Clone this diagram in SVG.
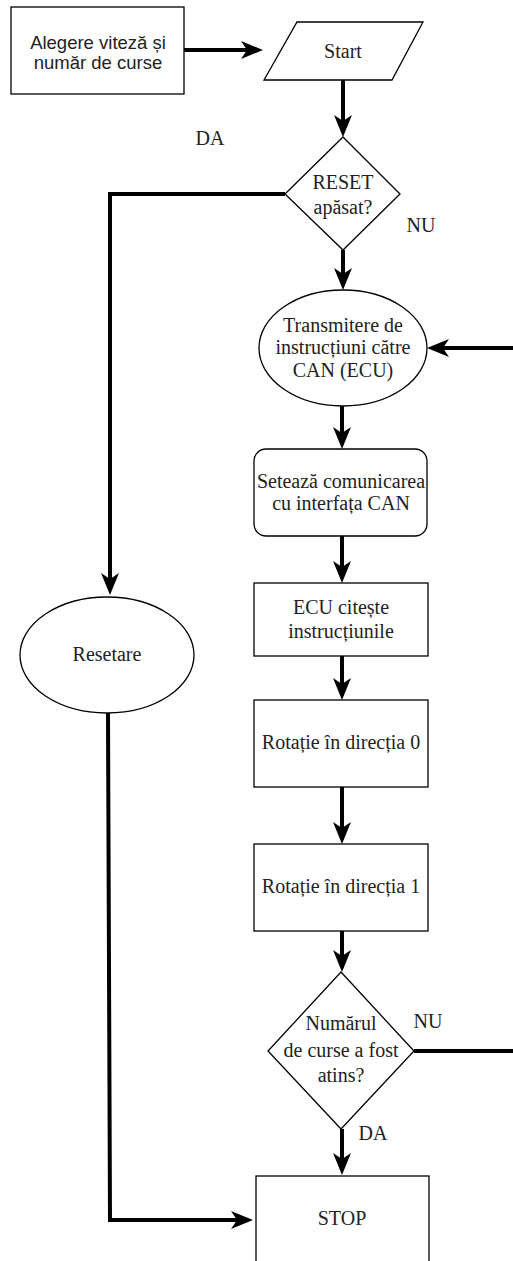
<svg xmlns="http://www.w3.org/2000/svg" width="513" height="1261" viewBox="0 0 513 1261">
<style>
.shape{fill:#fff;stroke:#000;stroke-width:1.3}
.conn{fill:none;stroke:#000;stroke-width:4}
.t{font-family:"Liberation Serif","Times New Roman",serif;font-size:20px;fill:#222;text-anchor:middle;dominant-baseline:central}
.s{font-family:"Liberation Sans",Arial,sans-serif;font-size:18.5px;fill:#222;text-anchor:middle;dominant-baseline:central}
</style>
<defs>
<marker id="arr" markerUnits="userSpaceOnUse" viewBox="0 0 22 18" refX="14" refY="9" markerWidth="22" markerHeight="18" orient="auto">
<path d="M0,0 L22,9 L0,18 L6,9 z" fill="#000"/>
</marker>
</defs>
<g id="connectors">
<line class="conn" x1="184" y1="50" x2="255" y2="50" marker-end="url(#arr)"/>
<line class="conn" x1="343" y1="80" x2="343" y2="129" marker-end="url(#arr)"/>
<polyline class="conn" points="285,194 110,194 110,587" marker-end="url(#arr)"/>
<line class="conn" x1="343" y1="250" x2="343" y2="282" marker-end="url(#arr)"/>
<line class="conn" x1="513" y1="348" x2="435" y2="348" marker-end="url(#arr)"/>
<line class="conn" x1="342" y1="406" x2="342" y2="441" marker-end="url(#arr)"/>
<line class="conn" x1="342" y1="536" x2="342" y2="575" marker-end="url(#arr)"/>
<line class="conn" x1="342" y1="656" x2="342" y2="692" marker-end="url(#arr)"/>
<line class="conn" x1="342" y1="787" x2="342" y2="836" marker-end="url(#arr)"/>
<line class="conn" x1="342" y1="931" x2="342" y2="964" marker-end="url(#arr)"/>
<line class="conn" x1="342" y1="1129" x2="342" y2="1167" marker-end="url(#arr)"/>
<line class="conn" x1="414" y1="1051" x2="513" y2="1051"/>
<polyline class="conn" points="108,713 110,1220 245,1220" marker-end="url(#arr)"/>
</g>
<g id="n-alegere">
<rect class="shape" x="11" y="7" width="173" height="87"/>
<text class="s" x="98" y="42">Alegere viteză și</text>
<text class="s" x="98" y="62">număr de curse</text>
</g>
<g id="n-start">
<polygon class="shape" points="297,22 423,22 392,80 264,80"/>
<text class="t" x="343" y="51">Start</text>
</g>
<g id="n-reset">
<polygon class="shape" points="343,137 400,194 343,250 285,194"/>
<text class="t" x="343" y="182">RESET</text>
<text class="t" x="343" y="207">apăsat?</text>
</g>
<text class="t" x="210" y="138">DA</text>
<text class="t" x="421" y="225">NU</text>
<g id="n-transmitere">
<ellipse class="shape" cx="343" cy="348" rx="84" ry="58"/>
<text class="t" x="343" y="325">Transmitere de</text>
<text class="t" x="343" y="347">instrucțiuni către</text>
<text class="t" x="343" y="370">CAN (ECU)</text>
</g>
<g id="n-seteaza">
<rect class="shape" x="254" y="449" width="173" height="87" rx="12"/>
<text class="t" x="341" y="481">Setează comunicarea</text>
<text class="t" x="341" y="503">cu interfața CAN</text>
</g>
<g id="n-ecu">
<rect class="shape" x="254" y="583" width="174" height="73"/>
<text class="t" x="341" y="607">ECU citește</text>
<text class="t" x="341" y="631">instrucțiunile</text>
</g>
<g id="n-rot0">
<rect class="shape" x="254" y="700" width="174" height="87"/>
<text class="t" x="341" y="742">Rotație în direcția 0</text>
</g>
<g id="n-rot1">
<rect class="shape" x="254" y="844" width="174" height="87"/>
<text class="t" x="341" y="886">Rotație în direcția 1</text>
</g>
<g id="n-numarul">
<polygon class="shape" points="341,972 414,1051 341,1129 268,1051"/>
<text class="t" x="341" y="1023">Numărul</text>
<text class="t" x="341" y="1050">de curse a fost</text>
<text class="t" x="341" y="1075">atins?</text>
</g>
<text class="t" x="428" y="1021">NU</text>
<text class="t" x="373" y="1133">DA</text>
<g id="n-resetare">
<ellipse class="shape" cx="107" cy="655" rx="87" ry="58"/>
<text class="t" x="107" y="654">Resetare</text>
</g>
<g id="n-stop">
<rect class="shape" x="256" y="1176" width="173" height="100"/>
<text class="t" x="342" y="1218">STOP</text>
</g>
</svg>
